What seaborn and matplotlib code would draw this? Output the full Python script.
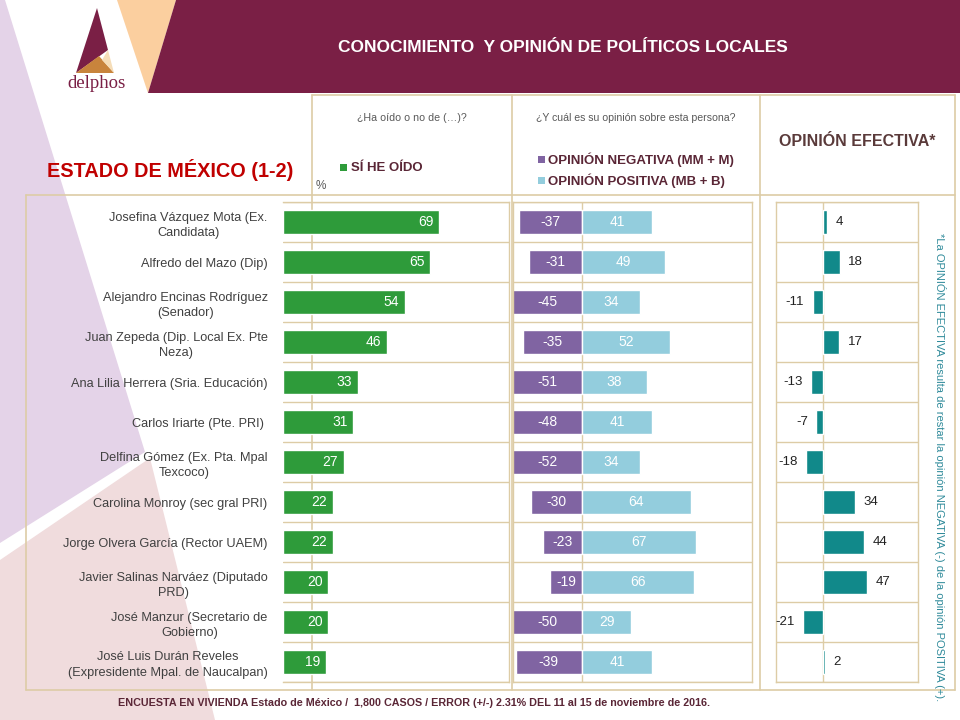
import matplotlib
matplotlib.use("Agg")
import matplotlib.pyplot as plt
from matplotlib.patches import Polygon, Rectangle
import seaborn as sns
import pandas as pd

# Data
names = [
    "Josefina Vázquez Mota (Ex.\nCandidata)",
    "Alfredo del Mazo (Dip)",
    "Alejandro Encinas Rodríguez\n(Senador)",
    "Juan Zepeda (Dip. Local Ex. Pte\nNeza)",
    "Ana Lilia Herrera (Sria. Educación)",
    "Carlos Iriarte (Pte. PRI) ",
    "Delfina Gómez (Ex. Pta. Mpal\nTexcoco)",
    "Carolina Monroy (sec gral PRI)",
    "Jorge Olvera García (Rector UAEM)",
    "Javier Salinas Narváez (Diputado\nPRD)",
    "José Manzur (Secretario de\nGobierno)",
    "José Luis Durán Reveles\n(Expresidente Mpal. de Naucalpan)",
]
heard = [69, 65, 54, 46, 33, 31, 27, 22, 22, 20, 20, 19]
negative = [-37, -31, -45, -35, -51, -48, -52, -30, -23, -19, -50, -39]
positive = [41, 49, 34, 52, 38, 41, 34, 64, 67, 66, 29, 41]
effective = [4, 18, -11, 17, -13, -7, -18, 34, 44, 47, -21, 2]

df = pd.DataFrame({"name": names, "heard": heard, "neg": negative,
                   "pos": positive, "eff": effective})

GREEN = "#2E9B3A"
PURPLE = "#8064A2"
LIGHTBLUE = "#93CDDD"
TEAL = "#11898A"
GRID = "#DDCCA6"
MAROON = "#7A1F45"
TEXT_DARK = "#5A2636"

sns.set_style("white")
plt.rcParams["font.family"] = ["Liberation Sans", "DejaVu Sans"]
NARROW = ["Liberation Sans Narrow", "Liberation Sans", "DejaVu Sans"]

fig = plt.figure(figsize=(9.6, 7.2), dpi=100)


def px_axes(x0, y0, x1, y1, z=1):
    ax = fig.add_axes([x0 / 960, 1 - y1 / 720, (x1 - x0) / 960, (y1 - y0) / 720])
    ax.set_zorder(z)
    return ax


# background decoration + frame (pixel coordinates)
bg = px_axes(0, 0, 960, 720, z=0)
bg.set_xlim(0, 960)
bg.set_ylim(720, 0)
bg.axis("off")
bg.add_patch(Polygon([(0, 0), (5, 0), (145, 452), (0, 543)], color="#E4D3E8", lw=0))
bg.add_patch(Polygon([(0, 560), (150, 458), (215, 720), (0, 720)], color="#F0DCDD", lw=0))
bg.add_patch(Polygon([(117, 0), (176, 0), (148, 93)], color="#FBCF9F", lw=0))
bg.add_patch(Polygon([(176, 0), (960, 0), (960, 93), (148, 93)], color=MAROON, lw=0))
# logo
bg.add_patch(Polygon([(97, 8), (76, 73), (108, 50)], color=MAROON, lw=0))
bg.add_patch(Polygon([(76, 73), (114, 73), (99, 56)], color="#C8843C", lw=0))
bg.add_patch(Polygon([(108, 50), (114, 73), (102, 60)], color="#F5DDB8", lw=0))
bg.text(96, 84, "delphos", color=MAROON, fontsize=13.5, ha="center", va="center",
        family=["Liberation Serif", "DejaVu Serif"])

# frame lines
for y, x0, x1 in [(95, 312, 955), (195, 26, 955), (690, 26, 955)]:
    bg.plot([x0, x1], [y, y], color=GRID, lw=1.2)
for x, y0 in [(26, 195), (312, 95), (512, 95), (760, 95), (955, 95)]:
    bg.plot([x, x], [y0, 690], color=GRID, lw=1.2)

# header texts
bg.text(563, 47, "CONOCIMIENTO  Y OPINIÓN DE POLÍTICOS LOCALES", color="white",
        fontsize=12.5, fontweight="bold", ha="center", va="center")
bg.text(170, 170, "ESTADO DE MÉXICO (1-2)", color="#C00000", fontsize=14.3,
        fontweight="bold", ha="center", va="center", family=NARROW)
bg.text(412, 118, "¿Ha oído o no de (…)?", color="#595959", fontsize=7.7,
        ha="center", va="center", family=NARROW)
bg.text(636, 118, "¿Y cuál es su opinión sobre esta persona?", color="#595959",
        fontsize=7.6, ha="center", va="center", family=NARROW)
bg.text(857, 142, "OPINIÓN EFECTIVA*", color="#5A3A3A", fontsize=11.5,
        fontweight="bold", ha="center", va="center", family=NARROW)
bg.text(321, 186, "%", color="#595959", fontsize=8.5, ha="center", va="center")

# legends
bg.add_patch(Rectangle((340, 164), 7, 7, color=GREEN, lw=0))
bg.text(351, 168, "SÍ HE OÍDO", color=TEXT_DARK, fontsize=9.5, fontweight="bold",
        ha="left", va="center", family=NARROW)
bg.add_patch(Rectangle((538, 156), 7, 7, color=PURPLE, lw=0))
bg.text(548, 160, "OPINIÓN NEGATIVA (MM + M)", color=TEXT_DARK, fontsize=9.5,
        fontweight="bold", ha="left", va="center", family=NARROW)
bg.add_patch(Rectangle((538, 177), 7, 7, color=LIGHTBLUE, lw=0))
bg.text(548, 181, "OPINIÓN POSITIVA (MB + B)", color=TEXT_DARK, fontsize=9.5,
        fontweight="bold", ha="left", va="center", family=NARROW)

# footer + side note
bg.text(414, 703, "ENCUESTA EN VIVIENDA Estado de México /  1,800 CASOS / ERROR (+/-) "
        "2.31% DEL 11 al 15 de noviembre de 2016.", color=TEXT_DARK, fontsize=7.75,
        fontweight="bold", ha="center", va="center", family=NARROW)
bg.text(940, 467, "*La OPINIÓN EFECTIVA resulta de restar la opinión NEGATIVA (-) "
        "de la opinión POSITIVA (+).", color="#2F8A9A", fontsize=8.0,
        rotation=-90, ha="center", va="center")


def style_panel(ax, xlim):
    ax.set_facecolor("none")
    ax.set_xlim(*xlim)
    ax.set_ylim(11.5, -0.5)
    ax.set_xlabel("")
    ax.set_ylabel("")
    ax.set_xticks([])
    for b in range(13):
        ax.axhline(b - 0.5, color=GRID, lw=1, zorder=0)
    for s in ax.spines.values():
        s.set_color(GRID)
        s.set_linewidth(1)


# panel 1: heard of
ax1 = px_axes(283, 202, 509, 682, z=2)
sns.barplot(data=df, x="heard", y="name", orient="h", color=GREEN,
            width=0.6, ax=ax1, saturation=1)
style_panel(ax1, (0, 100))
ax1.spines["left"].set_visible(False)
ax1.tick_params(axis="y", length=0, pad=11, labelsize=9.2, labelcolor="#404040")
for t in ax1.get_yticklabels():
    t.set_multialignment("center")
    t.set_linespacing(1.4)
for i, v in enumerate(heard):
    ax1.text(v - 2.5, i, str(v), color="white", ha="right", va="center",
             fontsize=10, family=NARROW)

# panel 2: negative / positive opinion
ax2 = px_axes(513, 202, 752, 682, z=2)
sns.barplot(data=df, x="neg", y="name", orient="h", color=PURPLE,
            width=0.6, ax=ax2, saturation=1)
sns.barplot(data=df, x="pos", y="name", orient="h", color=LIGHTBLUE,
            width=0.6, ax=ax2, saturation=1)
xmin2 = -40.6
style_panel(ax2, (xmin2, 100))
ax2.set_yticks([])
ax2.axvline(0, color=GRID, lw=1, zorder=0)
for i, (n, p) in enumerate(zip(negative, positive)):
    ax2.text(max(n, xmin2) / 2, i, str(n), color="white", ha="center",
             va="center", fontsize=10, family=NARROW)
    ax2.text(p / 2, i, str(p), color="white", ha="center", va="center",
             fontsize=10, family=NARROW)

# panel 3: effective opinion
ax3 = px_axes(776, 202, 918, 682, z=2)
sns.barplot(data=df, x="eff", y="name", orient="h", color=TEAL,
            width=0.6, ax=ax3, saturation=1)
style_panel(ax3, (-50, 101))
ax3.set_yticks([])
ax3.axvline(0, color=GRID, lw=1, zorder=0)
for i, v in enumerate(effective):
    if v >= 0:
        ax3.text(v + 9, i, str(v), color="#222222", ha="left", va="center",
                 fontsize=9.5, family=NARROW)
    else:
        ax3.text(v - 9, i, str(v), color="#222222", ha="right", va="center",
                 fontsize=9.5, family=NARROW)

fig.savefig("out.png", dpi=100)
